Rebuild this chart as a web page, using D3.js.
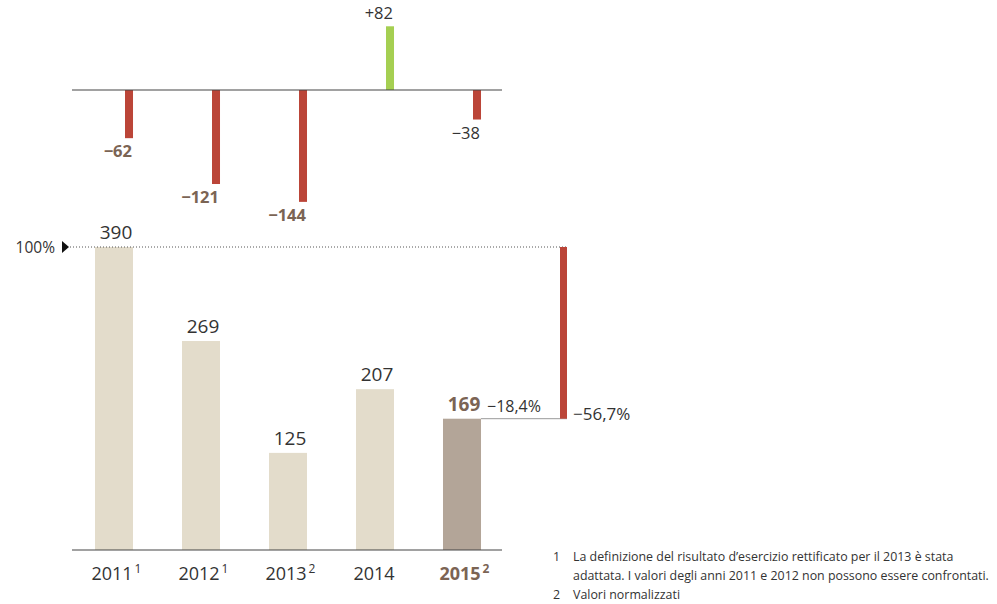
<!DOCTYPE html>
<html>
<head>
<meta charset="utf-8">
<script src="https://cdn.jsdelivr.net/npm/d3@7"></script>
<style>
  body { margin: 0; background: #fff; }
  text { font-family: "Open Sans", "Noto Sans", sans-serif; }
</style>
</head>
<body>
<svg width="997" height="604"></svg>
<script>
// data
var years = ["2011", "2012", "2013", "2014", "2015"];
var yearNotes = ["1", "1", "2", "", "2"];
var values = [390, 269, 125, 207, 169];
var changes = [-62, -121, -144, 82, -38];
var changeLabels = ["\u221262", "\u2212121", "\u2212144", "+82", "\u221238"];
var changeBold = [true, true, true, false, false];
var lastChange = "\u221218,4%";
var totalChange = "\u221256,7%";
var refLabel = "100%";
var footnotes = [
  ["1", "La definizione del risultato d\u2019esercizio rettificato per il 2013 è stata"],
  ["", "adattata. I valori degli anni 2011 e 2012 non possono essere confrontati."],
  ["2", "Valori normalizzati"]
];

var beige = "#e3dccb", taupe = "#b3a598", red = "#bb4538", green = "#a5cf52",
    brown = "#7b6454", dark = "#333";

var svg = d3.select("svg");

var x = d3.scaleBand()
  .domain(years)
  .range([70.5, 505.5])
  .paddingInner(0.563)
  .paddingOuter(0.2815);

var base = 550, top100 = 247;
var y = d3.scaleLinear().domain([0, 390]).range([base, top100]);
var k = (base - top100) / 390;

var topBase = 90;
var yTop = d3.scaleLinear().domain([-150, 100]).range([topBase + 150 * k, topBase - 100 * k]);

// ---- top chart: yearly changes
var barW = 8;
svg.selectAll("rect.chg")
  .data(changes)
  .enter()
  .append("rect")
  .attr("class", "chg")
  .attr("x", (d, i) => x(years[i]) + x.bandwidth() - barW)
  .attr("width", barW)
  .attr("y", d => Math.min(yTop(d), yTop(0)))
  .attr("height", d => Math.abs(yTop(d) - yTop(0)))
  .attr("fill", d => d < 0 ? red : green);

svg.append("line")
  .attr("x1", 72).attr("x2", 502)
  .attr("y1", topBase).attr("y2", topBase)
  .attr("stroke", "#444").attr("stroke-width", 1.2);

svg.selectAll("text.chg")
  .data(changes)
  .enter()
  .append("text")
  .attr("class", "chg")
  .attr("x", (d, i) => x(years[i]) + x.bandwidth() - 1)
  .attr("y", d => d < 0 ? yTop(d) + 19 : yTop(d) - 7)
  .attr("text-anchor", "end")
  .attr("font-size", 16.5)
  .attr("font-weight", (d, i) => changeBold[i] ? "bold" : "normal")
  .attr("fill", (d, i) => changeBold[i] ? brown : dark)
  .text((d, i) => changeLabels[i]);

// ---- bottom chart: values
svg.selectAll("rect.val")
  .data(values)
  .enter()
  .append("rect")
  .attr("class", "val")
  .attr("x", (d, i) => x(years[i]))
  .attr("width", x.bandwidth())
  .attr("y", d => y(d))
  .attr("height", d => base - y(d))
  .attr("fill", (d, i) => i == values.length - 1 ? taupe : beige);

svg.selectAll("text.val")
  .data(values)
  .enter()
  .append("text")
  .attr("class", "val")
  .attr("x", (d, i) => x(years[i]) + x.bandwidth() / 2 + 2)
  .attr("y", d => y(d) - 8)
  .attr("text-anchor", "middle")
  .attr("font-size", 19)
  .attr("font-weight", (d, i) => i == values.length - 1 ? "bold" : "normal")
  .attr("fill", (d, i) => i == values.length - 1 ? brown : dark)
  .text(d => d);

svg.append("line")
  .attr("x1", 72).attr("x2", 502)
  .attr("y1", base).attr("y2", base)
  .attr("stroke", "#444").attr("stroke-width", 1.2);

// year labels with footnote marks
var yl = svg.selectAll("text.year")
  .data(years)
  .enter()
  .append("text")
  .attr("class", "year")
  .attr("x", (d, i) => x(d) + x.bandwidth() / 2 - 1)
  .attr("y", 580)
  .attr("text-anchor", "middle")
  .attr("font-size", 18)
  .attr("font-weight", (d, i) => i == years.length - 1 ? "bold" : "normal")
  .attr("fill", (d, i) => i == years.length - 1 ? brown : dark);
yl.append("tspan").text(d => d);
yl.append("tspan")
  .attr("dx", 2)
  .attr("dy", -7)
  .attr("font-size", 12)
  .text((d, i) => yearNotes[i]);
yl.each(function (d, i) {
  // keep the year centred under the bar, note hangs to the right
  if (yearNotes[i]) {
    var w = this.getComputedTextLength();
    var t = this.firstChild.getComputedTextLength();
    d3.select(this).attr("x", x(d) + x.bandwidth() / 2 - 1 + (w - t) / 2);
  }
});

// 100% reference line
var xRight = 567;
svg.append("line")
  .attr("x1", 70).attr("x2", xRight)
  .attr("y1", y(values[0])).attr("y2", y(values[0]))
  .attr("stroke", "#555").attr("stroke-width", 1)
  .attr("stroke-dasharray", "1,2");

svg.append("path")
  .attr("d", d3.line()([[62, y(values[0]) - 6], [69, y(values[0])], [62, y(values[0]) + 6]]))
  .attr("fill", "#111");

svg.append("text")
  .attr("x", 55).attr("y", y(values[0]) + 5.5)
  .attr("text-anchor", "end")
  .attr("font-size", 15.5)
  .attr("fill", dark)
  .text(refLabel);

// change from first to last year
var last = values[values.length - 1];
svg.append("line")
  .attr("x1", x(years[4]) + x.bandwidth()).attr("x2", xRight)
  .attr("y1", y(last)).attr("y2", y(last))
  .attr("stroke", "#999").attr("stroke-width", 1);

svg.append("rect")
  .attr("x", xRight - 7)
  .attr("width", 7)
  .attr("y", y(values[0]))
  .attr("height", y(last) - y(values[0]))
  .attr("fill", red);

svg.append("text")
  .attr("x", 487).attr("y", y(last) - 7)
  .attr("font-size", 16)
  .attr("fill", dark)
  .text(lastChange);

svg.append("text")
  .attr("x", 573).attr("y", y(last) + 1)
  .attr("font-size", 17)
  .attr("fill", dark)
  .text(totalChange);

// footnotes
var fn = svg.selectAll("g.fn")
  .data(footnotes)
  .enter()
  .append("g")
  .attr("class", "fn")
  .attr("transform", (d, i) => "translate(0," + (561 + i * 19) + ")");
fn.append("text")
  .attr("x", 553)
  .attr("font-size", 12.4)
  .attr("fill", dark)
  .text(d => d[0]);
fn.append("text")
  .attr("x", 573)
  .attr("font-size", 12.4)
  .attr("fill", dark)
  .text(d => d[1]);
</script>
</body>
</html>
